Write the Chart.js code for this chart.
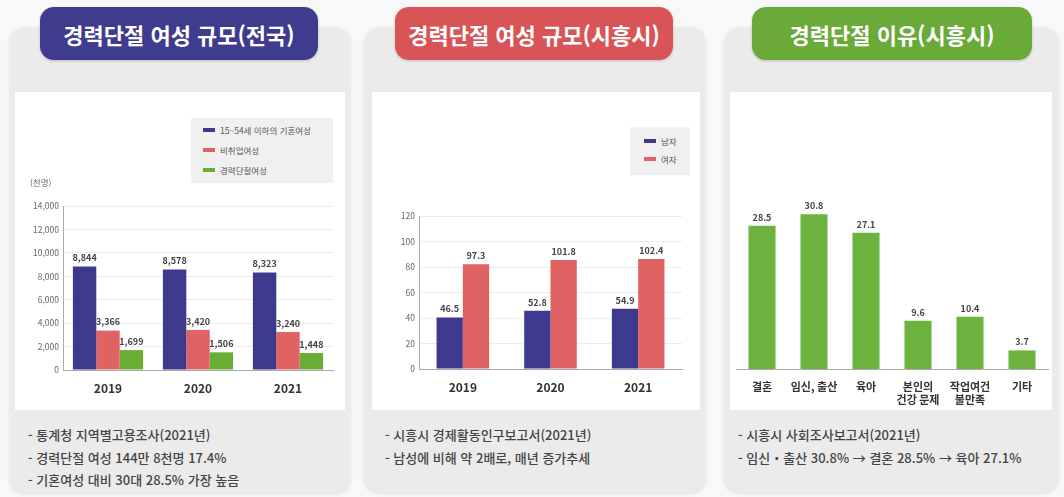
<!DOCTYPE html>
<html lang="ko">
<head>
<meta charset="utf-8">
<script src="https://cdn.jsdelivr.net/npm/chart.js@4"></script>
<style>
  body { margin: 0; width: 1064px; height: 497px; background: #f8f8f8; overflow: hidden;
         font-family: "Noto Sans CJK KR", "Noto Sans", sans-serif; position: relative; }
  .card { position: absolute; top: 28px; height: 464px; background: #ebebeb; border-radius: 14px;
          box-shadow: 0 1px 4px rgba(0,0,0,0.12); }
  .white { position: absolute; top: 92px; height: 318px; background: #fff; }
  .pill { position: absolute; top: 7px; height: 53px; border-radius: 14px; color: #fff;
          font-size: 22px; font-weight: 700; display: flex; align-items: center; justify-content: center;
          box-shadow: 0 1px 3px rgba(0,0,0,0.2); }
  .notes { position: absolute; top: 424px; font-size: 13px; color: #444; line-height: 22.5px; font-weight: 500; }
  canvas { position: absolute; }
  .legend { position: absolute; background: #f0f0f0; font-size: 8.5px; color: #555; }
  .legend div { display: flex; align-items: center; height: 20px; }
  .legend span { display: inline-block; width: 12px; height: 4px; margin-right: 5px; }
  .unit { position: absolute; font-size: 8.5px; color: #666; }
</style>
</head>
<body>
<div class="card" style="left:10px;width:340px"></div>
<div class="card" style="left:365px;width:340px"></div>
<div class="card" style="left:725px;width:333px"></div>
<div class="white" style="left:15px;width:330px"></div>
<div class="white" style="left:372px;width:328px"></div>
<div class="white" style="left:730px;width:322px"></div>

<div class="pill" style="left:40px;width:278px;background:#3f3b8e">경력단절 여성 규모(전국)</div>
<div class="pill" style="left:395px;width:278px;background:#d95456">경력단절 여성 규모(시흥시)</div>
<div class="pill" style="left:752px;width:280px;background:#6aaa38">경력단절 이유(시흥시)</div>

<canvas id="c1" width="330" height="318" style="left:15px;top:92px"></canvas>
<canvas id="c2" width="328" height="318" style="left:372px;top:92px"></canvas>
<canvas id="c3" width="324" height="318" style="left:728px;top:92px"></canvas>

<div class="unit" style="left:30px;top:176px">(천명)</div>
<div class="legend" style="left:191px;top:118px;width:142px;height:65px;padding-left:12px;box-sizing:border-box;padding-top:2px">
  <div><span style="background:#3d3a8e"></span>15~54세 이하의 기혼여성</div>
  <div><span style="background:#e06262"></span>비취업여성</div>
  <div><span style="background:#6aad34"></span>경력단절여성</div>
</div>
<div class="legend" style="left:630px;top:127px;width:60px;height:48px;padding-left:14px;box-sizing:border-box;padding-top:5px">
  <div style="height:18px"><span style="background:#3d3a8e"></span>남자</div>
  <div style="height:18px"><span style="background:#e06262"></span>여자</div>
</div>

<div class="notes" style="left:28px">- 통계청 지역별고용조사(2021년)<br>- 경력단절 여성 144만 8천명 17.4%<br>- 기혼여성 대비 30대 28.5% 가장 높음</div>
<div class="notes" style="left:385px">- 시흥시 경제활동인구보고서(2021년)<br>- 남성에 비해 약 2배로, 매년 증가추세</div>
<div class="notes" style="left:738px">- 시흥시 사회조사보고서(2021년)<br>- 임신・출산 30.8% → 결혼 28.5% → 육아 27.1%</div>

<script>
// --- 데이터 ---
const years = ["2019", "2020", "2021"];
const marriedWomen = [8844, 8578, 8323];
const nonEmployed = [3366, 3420, 3240];
const careerBreak = [1699, 1506, 1448];

// 시흥시: 막대 높이는 그림에 그려진 그대로, 표기값은 따로
const menBars = [40.4, 45.6, 47.2];
const womenBars = [82.2, 85.5, 86.3];
const menLabels = ["46.5", "52.8", "54.9"];
const womenLabels = ["97.3", "101.8", "102.4"];

const reasons = ["결혼", "임신, 출산", "육아", ["본인의", "건강 문제"], ["작업여건", "불만족"], "기타"];
const reasonValues = [28.5, 30.8, 27.1, 9.6, 10.4, 3.7];

const FONT = '"Noto Sans CJK KR", "Noto Sans", sans-serif';
const BLUE = "#3d3a8e", RED = "#e06262", GREEN = "#6aad34";

// --- 값 라벨 플러그인 ---
const valueLabels = {
  id: "valueLabels",
  afterDatasetsDraw(chart, args, opts) {
    const ctx = chart.ctx;
    ctx.save();
    ctx.font = "700 " + (opts.size || 9) + "px " + FONT;
    ctx.fillStyle = "#444";
    ctx.textAlign = "center";
    ctx.textBaseline = "bottom";
    chart.data.datasets.forEach((ds, di) => {
      chart.getDatasetMeta(di).data.forEach((bar, i) => {
        const txt = ds.labelText ? ds.labelText[i] : ds.data[i].toLocaleString("en-US");
        ctx.fillText(txt, bar.x, bar.y - 4);
      });
    });
    ctx.restore();
  },
};

function fixedWidth(w) { return (s) => { s.width = w; }; }
function fixedHeight(h) { return (s) => { s.height = h; }; }

function barOptions(yMax, yStep, yWidth, pad, xHeight, xFontSize, showY) {
  return {
    responsive: false,
    animation: false,
    layout: { padding: pad },
    plugins: { legend: { display: false }, tooltip: { enabled: false }, valueLabels: { size: 9 } },
    scales: {
      x: {
        grid: { display: false },
        border: { color: "#aaa" },
        ticks: { color: "#333", font: { family: FONT, size: xFontSize, weight: "700" }, padding: 3, maxRotation: 0, autoSkip: false },
        afterFit: fixedHeight(xHeight),
      },
      y: {
        display: showY,
        min: 0, max: yMax,
        ticks: { stepSize: yStep, color: "#666", font: { family: FONT, size: 8.5 }, padding: 4 },
        grid: { color: "#ececec", drawTicks: false },
        border: { color: "#aaa" },
        afterFit: fixedWidth(yWidth),
      },
    },
  };
}

// --- 전국 ---
const opt1 = barOptions(14000, 2000, 48, { top: 114, right: 12, left: 0, bottom: 0 }, 40, 12, true);
opt1.datasets = { bar: { categoryPercentage: 0.78, barPercentage: 1 } };
new Chart(document.getElementById("c1"), {
  type: "bar",
  data: {
    labels: years,
    datasets: [
      { label: "15~54세 이하의 기혼여성", data: marriedWomen, backgroundColor: BLUE },
      { label: "비취업여성", data: nonEmployed, backgroundColor: RED },
      { label: "경력단절여성", data: careerBreak, backgroundColor: GREEN },
    ],
  },
  options: opt1,
  plugins: [valueLabels],
});

// --- 시흥시 ---
const opt2 = barOptions(120, 20, 47, { top: 124, right: 18, left: 0, bottom: 0 }, 41, 12, true);
opt2.datasets = { bar: { categoryPercentage: 0.6, barPercentage: 1 } };
new Chart(document.getElementById("c2"), {
  type: "bar",
  data: {
    labels: years,
    datasets: [
      { label: "남자", data: menBars, labelText: menLabels, backgroundColor: BLUE },
      { label: "여자", data: womenBars, labelText: womenLabels, backgroundColor: RED },
    ],
  },
  options: opt2,
  plugins: [valueLabels],
});

// --- 이유 ---
const opt3 = barOptions(36, 5, 0, { top: 96, right: 4, left: 8, bottom: 0 }, 41, 11, false);
opt3.datasets = { bar: { categoryPercentage: 0.52, barPercentage: 1 } };
new Chart(document.getElementById("c3"), {
  type: "bar",
  data: {
    labels: reasons,
    datasets: [
      { label: "경력단절 이유", data: reasonValues, labelText: reasonValues.map(String), backgroundColor: "#6db33f" },
    ],
  },
  options: opt3,
  plugins: [valueLabels],
});
</script>
</body>
</html>
